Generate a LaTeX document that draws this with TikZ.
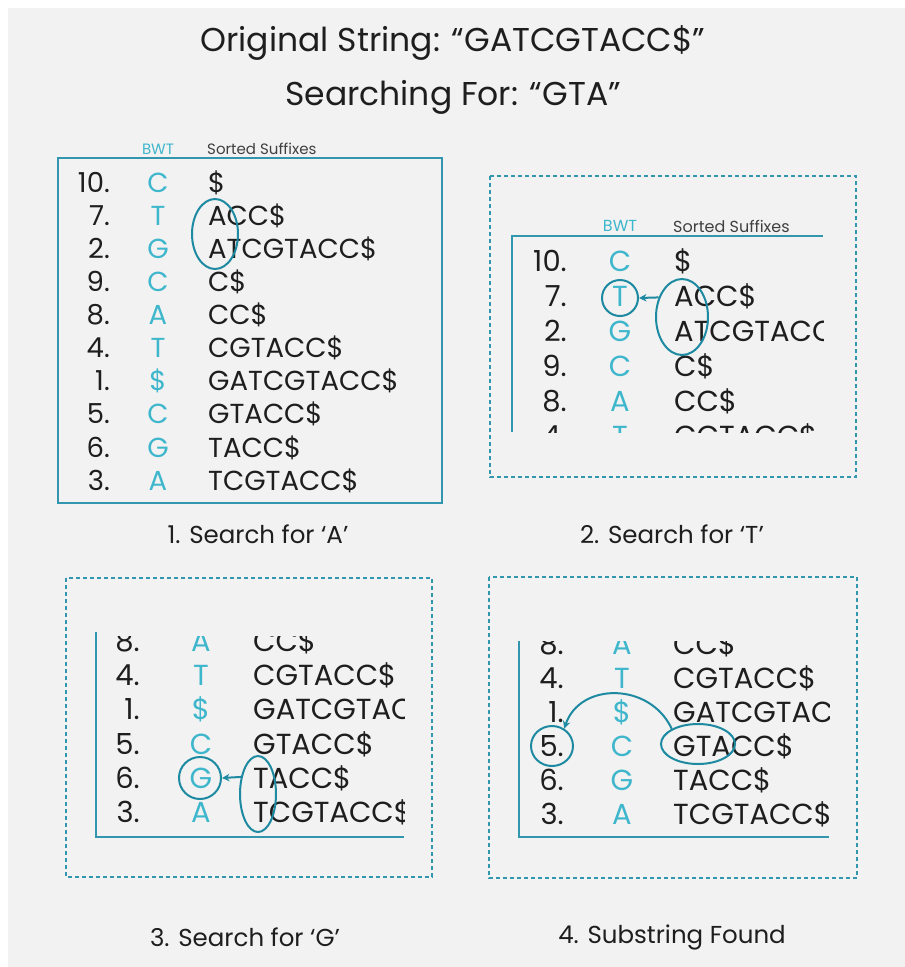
\documentclass[tikz,border=0pt]{standalone}
\usepackage{fontspec}
\setmainfont{Poppins}
\usetikzlibrary{arrows.meta,shapes.geometric}
\definecolor{bg}{RGB}{242,242,242}
\definecolor{framec}{RGB}{50,150,175}
\definecolor{bwtc}{RGB}{62,182,204}
\definecolor{markc}{RGB}{30,138,162}
\definecolor{ink}{RGB}{30,30,30}
\newcommand\rowfs{27.5}
\newcommand\hdrfs{15}
\tikzset{
 numtxt/.style={anchor=base east, inner sep=0pt, text=ink, font=\fontsize{\rowfs}{\rowfs}\selectfont},
 bwttxt/.style={anchor=base, inner sep=0pt, text=bwtc, font=\fontsize{\rowfs}{\rowfs}\selectfont},
 suftxt/.style={anchor=base west, inner sep=0pt, text=ink, font=\fontsize{\rowfs}{\rowfs}\selectfont},
 hdrbwt/.style={inner sep=0pt, text=bwtc, font=\fontsize{\hdrfs}{\hdrfs}\selectfont},
 hdrsuf/.style={anchor=west, inner sep=0pt, text=ink!85, font=\fontsize{\hdrfs}{\hdrfs}\selectfont},
 captiontxt/.style={inner sep=0pt, text=ink, font=\fontsize{24.5}{24.5}\selectfont},
 titletxt/.style={inner sep=0pt, text=ink, font=\fontsize{33}{33}\selectfont},
 solidframe/.style={draw=framec, line width=2pt},
 dashframe/.style={draw=framec, line width=1.3pt, dash pattern=on 4pt off 3pt},
 axisline/.style={draw=framec, line width=2pt},
 ring/.style={draw=markc, line width=2pt, ellipse, inner sep=0pt},
 pointer/.style={draw=markc, line width=2pt, -{Stealth[length=7.5pt,width=7.5pt]}},
}
% #1 prefix, #2 x of number right edge, #3 x of BWT letter, #4 x of suffix start,
% #5 y of first shown row centre, #6 row spacing, #7 first row, #8 last row
\newcommand\bwtrows[8]{%
  \foreach \nm/\bw/\sx [count=\k] in {10./C/\$, 7./T/ACC\$, 2./G/ATCGTACC\$, 9./C/C\$, 8./A/CC\$, 4./T/CGTACC\$, 1./\$/GATCGTACC\$, 5./C/GTACC\$, 6./G/TACC\$, 3./A/TCGTACC\$}{%
    \ifnum\k<#7\relax\else\ifnum\k>#8\relax\else
      \pgfmathsetmacro\yy{#5+(\k-#7)*#6+0.35*\rowfs}
      \node[numtxt] (#1n\k) at (#2,\yy) {\nm};
      \node[bwttxt] (#1b\k) at (#3,\yy) {\bw};
      \node[suftxt] (#1s\k) at (#4,\yy) {\sx};
    \fi\fi}%
}
\begin{document}
\begin{tikzpicture}[x=1pt,y=-1pt]
\useasboundingbox (0,0) rectangle (905,967);
\fill[white] (0,0) rectangle (905,967);
\fill[bg] (8,8) rectangle (905,967);

% titles
\node[titletxt] (title1) at (453,43) {Original String: “GATCGTACC\$”};
\node[titletxt] (title2) at (453,97) {Searching For: “GTA”};

% ---------- panel 1 ----------
\node[hdrbwt] (h1b) at (158,149) {BWT};
\node[hdrsuf] (h1s) at (207,149) {Sorted Suffixes};
\draw[solidframe] (58,158) rectangle (442,503);
\bwtrows{pa}{110}{158}{208}{183}{33.05}{1}{10}
\node[ring, minimum width=46pt, minimum height=70pt] (e1) at (215,234) {};
\node[captiontxt] (cap1) at (258,534) {1. Search for ‘A’};

% ---------- panel 2 ----------
\draw[dashframe] (490,176) rectangle (856,477);
\begin{scope}
\renewcommand\hdrfs{16}
\renewcommand\rowfs{29}
\node[hdrbwt] (h2b) at (620,226) {BWT};
\node[hdrsuf] (h2s) at (673,226) {Sorted Suffixes};
\draw[axisline] (512,432) -- (512,236) -- (823,236);
\begin{scope}
\clip (512,236) rectangle (823,432);
\bwtrows{pb}{567}{620}{674}{261}{35}{1}{6}
\end{scope}
\node[ring, minimum width=36pt, minimum height=36pt] (c2) at (620,298) {};
\node[ring, minimum width=52pt, minimum height=76pt] (e2) at (682,317) {};
\draw[pointer] (e2.140) -- (c2.east);
\end{scope}
\node[captiontxt] (cap2) at (672,534) {2. Search for ‘T’};

% ---------- panel 3 ----------
\draw[dashframe] (66,578) rectangle (432,877);
\begin{scope}
\renewcommand\rowfs{29}
\draw[axisline] (96,632) -- (96,837) -- (404,837);
\begin{scope}
\clip (96,636) rectangle (404,837);
\bwtrows{pc}{140}{201}{253}{641}{34.3}{5}{10}
\end{scope}
\node[ring, minimum width=42pt, minimum height=42pt] (c3) at (200,778) {};
\node[ring, minimum width=36pt, minimum height=76pt] (e3) at (258,794) {};
\draw[pointer] (e3.135) -- (c3.east);
\end{scope}
\node[captiontxt] (cap3) at (245,937) {3. Search for ‘G’};

% ---------- panel 4 ----------
\draw[dashframe] (489,577) rectangle (857,878);
\begin{scope}
\renewcommand\rowfs{29}
\draw[axisline] (519,641) -- (519,837) -- (829,837);
\begin{scope}
\clip (519,641) rectangle (829,837);
\bwtrows{pd}{564}{622}{673}{644.5}{34}{5}{10}
\end{scope}
\node[ring, minimum width=42pt, minimum height=40pt] (c4) at (552,746) {};
\node[ring, minimum width=74pt, minimum height=40pt] (e4) at (698,744) {};
\draw[pointer] (e4.150) .. controls (650,682) and (580,682) .. (c4.55);
\end{scope}
\node[captiontxt] (cap4) at (672,937) {4. Substring Found};
\end{tikzpicture}
\end{document}
